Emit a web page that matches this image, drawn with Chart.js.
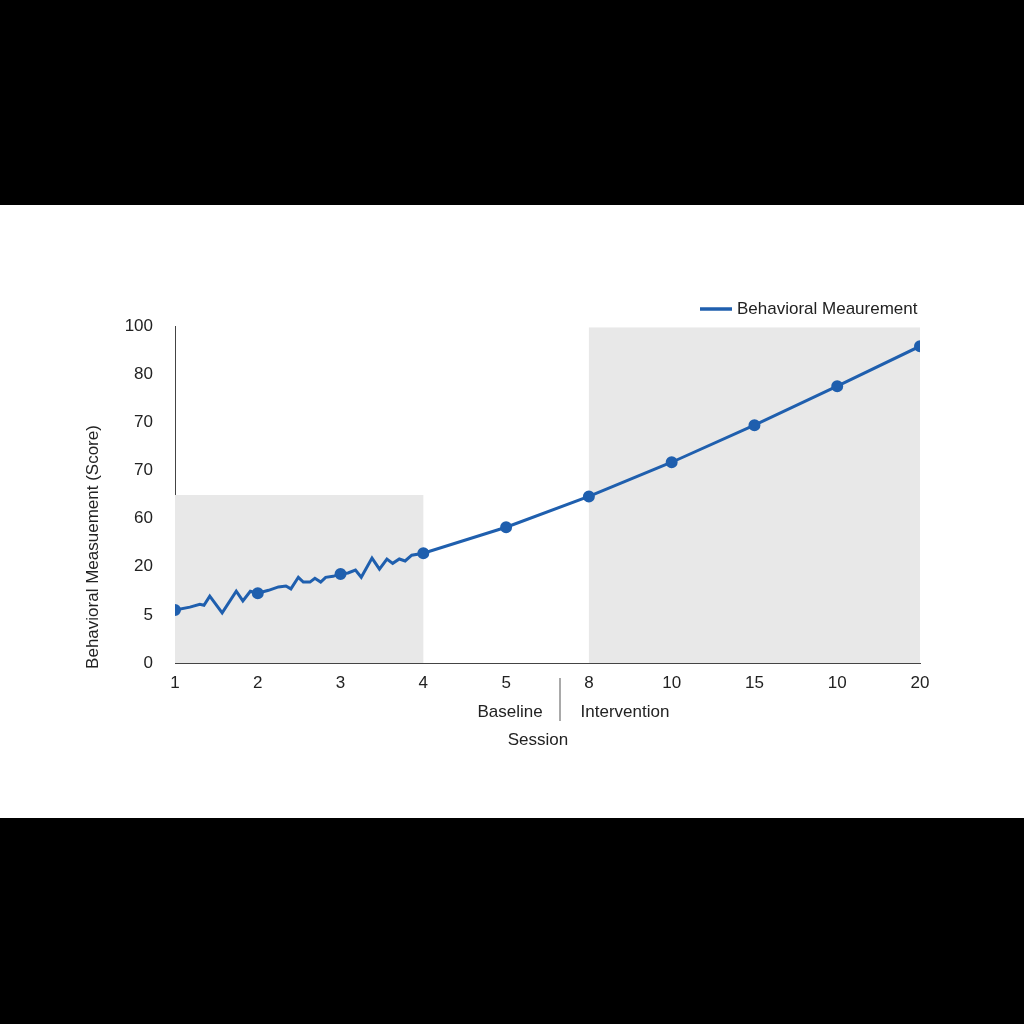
<!DOCTYPE html>
<html><head><script src="https://cdn.jsdelivr.net/npm/chart.js@4"></script>
<style>html,body{margin:0;background:#000;width:1024px;height:1024px;overflow:hidden}
#p{position:absolute;left:0;top:205px;width:1024px;height:613px;background:#fff}</style></head>
<body><div id="p"><canvas id="c" width="1024" height="613"></canvas></div>
<script>
const xTickLabels=['1','2','3','4','5','8','10','15','10','20'];
const yTickLabels=['0','5','20','60','70','70','80','100'];
const seriesX=[0,.18,.30,.35,.42,.57,.74,.82,.91,1,1.13,1.25,1.34,1.40,1.49,1.55,1.63,1.69,1.76,1.82,1.91,2,2.09,2.18,2.25,2.38,2.47,2.56,2.63,2.71,2.78,2.86,3,4,5,6,7,8,9];
const seriesY=[1.10,1.16,1.22,1.20,1.39,1.04,1.49,1.29,1.49,1.45,1.51,1.58,1.60,1.54,1.78,1.68,1.68,1.76,1.68,1.78,1.80,1.85,1.87,1.93,1.78,2.18,1.95,2.16,2.07,2.16,2.12,2.24,2.28,2.82,3.46,4.17,4.94,5.75,6.58];
const phases=[{x0:0,x1:3,y1:3.49},{x0:5,x1:9,y1:6.97}];
const blue='#1f5fae';
const bg={id:'bg',beforeDatasetsDraw(ch){const{ctx,scales:{x,y}}=ch;ctx.save();ctx.fillStyle='#e8e8e8';
phases.forEach(p=>{ctx.fillRect(x.getPixelForValue(p.x0),y.getPixelForValue(p.y1),x.getPixelForValue(p.x1)-x.getPixelForValue(p.x0),y.getPixelForValue(0)-y.getPixelForValue(p.y1));});ctx.restore();},
afterDraw(ch){const{ctx}=ch;ctx.save();ctx.fillStyle='#222';ctx.font='17px "Liberation Sans", Arial';ctx.textBaseline='middle';
ctx.strokeStyle=blue;ctx.lineWidth=3.5;ctx.beginPath();ctx.moveTo(700,104);ctx.lineTo(732,104);ctx.stroke();
ctx.fillText('Behavioral Meaurement',737,104);
ctx.textAlign='center';ctx.fillText('Baseline',510,507);ctx.fillText('Intervention',625,507);ctx.fillText('Session',538,535);
ctx.strokeStyle='#555';ctx.lineWidth=1;ctx.beginPath();ctx.moveTo(560,473);ctx.lineTo(560,516);ctx.stroke();
ctx.translate(93,342);ctx.rotate(-Math.PI/2);ctx.fillText('Behavioral Measuement (Score)',0,0);ctx.restore();}};
new Chart(document.getElementById('c'),{type:'line',
data:{datasets:[{data:seriesX.map((v,i)=>({x:v,y:seriesY[i]})),borderColor:blue,backgroundColor:blue,borderWidth:3,tension:0,
pointRadius:c=>Number.isInteger(c.raw.x)?4.5:0,pointHoverRadius:0}]},
options:{responsive:false,animation:false,layout:{padding:{top:121,right:104,left:0,bottom:0}},
plugins:{legend:{display:false},tooltip:{enabled:false}},
scales:{x:{type:'linear',min:0,max:9,afterFit:s=>{s.height=155},grid:{display:false,drawTicks:true,tickLength:6,color:'#444'},border:{color:'#444'},
ticks:{stepSize:1,color:'#222',font:{size:17,family:'Liberation Sans'},callback:v=>xTickLabels[v],padding:4}},
y:{min:0,max:7,afterFit:s=>{s.width=175},grid:{display:false},border:{color:'#444'},
ticks:{stepSize:1,color:'#222',font:{size:17,family:'Liberation Sans'},callback:v=>yTickLabels[v],padding:14}}}},
plugins:[bg]});
</script></body></html>
